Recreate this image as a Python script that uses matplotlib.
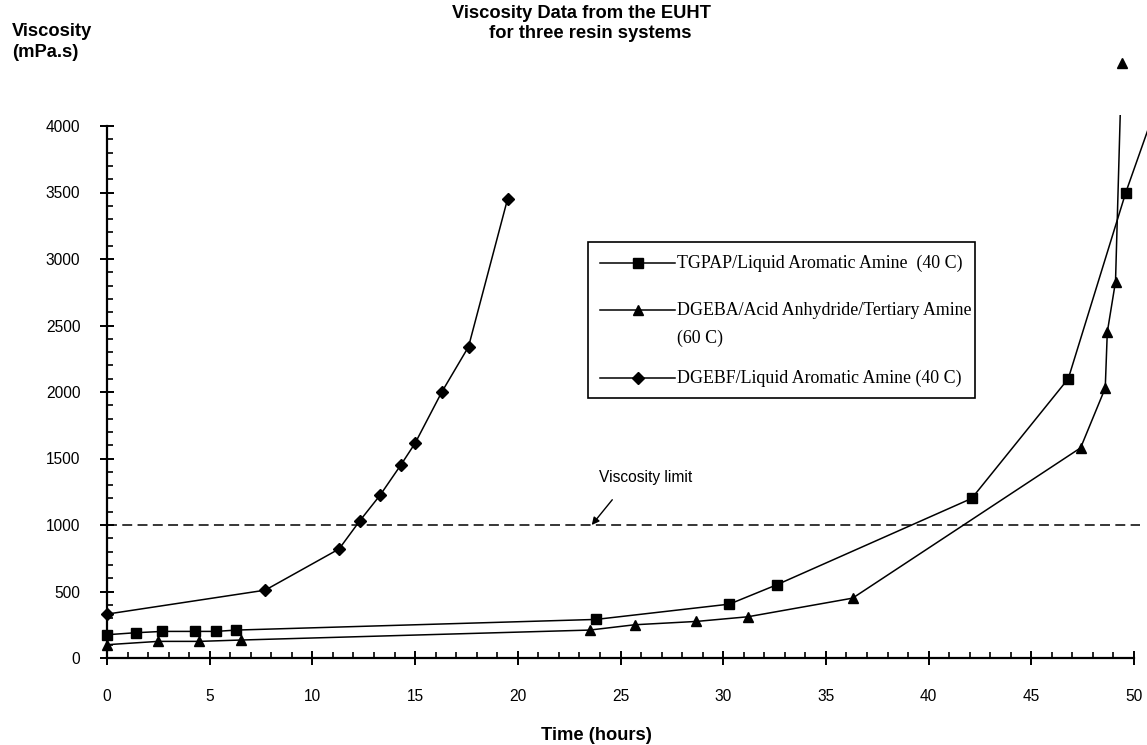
import matplotlib
matplotlib.use("Agg")
import matplotlib.pyplot as plt
from matplotlib.lines import Line2D
from matplotlib.patches import Rectangle
from matplotlib.ticker import MultipleLocator

# TGPAP / liquid aromatic amine (40 C)
tgpap_t = [0, 1.4, 2.7, 4.3, 5.3, 6.3, 23.8, 30.3, 32.6, 42.1, 46.8, 49.6, 52.0]
tgpap_v = [175, 190, 200, 200, 200, 210, 290, 405, 550, 1200, 2100, 3500, 4550]

# DGEBA / acid anhydride / tertiary amine (60 C)
dgeba_t = [0, 2.5, 4.5, 6.5, 23.5, 25.7, 28.7, 31.2, 36.3, 47.4, 48.6, 48.7, 49.1, 49.4]
dgeba_v = [100, 125, 125, 135, 210, 250, 275, 310, 450, 1580, 2030, 2450, 2830, 4470]

# DGEBF / liquid aromatic amine (40 C)
dgebf_t = [0, 7.7, 11.3, 12.3, 13.3, 14.3, 15.0, 16.3, 17.6, 19.5]
dgebf_v = [330, 510, 820, 1030, 1225, 1450, 1615, 2000, 2340, 3450]

labels = ["TGPAP/Liquid Aromatic Amine  (40 C)",
          "DGEBA/Acid Anhydride/Tertiary Amine\n(60 C)",
          "DGEBF/Liquid Aromatic Amine (40 C)"]
markers = ["s", "^", "D"]
msizes = [6.6, 7.4, 5.9]

visc_limit = 1000
x_ticks = list(range(0, 51, 5))
y_ticks = list(range(0, 4001, 500))

W, H = 1147, 745
fig = plt.figure(figsize=(W / 100, H / 100), dpi=100)
plt.rcParams['font.family'] = ['Liberation Sans', 'DejaVu Sans']

def fx(px):
    return px / W

def fy(py):
    return 1 - py / H

ax = fig.add_axes([fx(107), fy(658), fx(1134) - fx(107), fy(126) - fy(658)])
ax.set_xlim(0, 50)
ax.set_ylim(0, 4000)

# lines are clipped a little above the axis top, markers are not
clip = Rectangle((-10, -1000), 80, 5084, transform=ax.transData)
series = [(tgpap_t, tgpap_v), (dgeba_t, dgeba_v), (dgebf_t, dgebf_v)]
for (t, v), m, ms in zip(series, markers, msizes):
    ln, = ax.plot(t, v, color='black', lw=1.1)
    ln.set_clip_path(clip)
    ax.plot(t, v, ls='none', marker=m, ms=ms, color='black', clip_on=False)

ax.axhline(visc_limit, xmin=0, xmax=1.006, color='black', lw=1.1,
           dashes=(6.5, 3.5), clip_on=False)
ax.text(23.95, 1326, "Viscosity limit", fontsize=11.2)
ax.annotate('', xy=(23.6, visc_limit), xytext=(24.6, 1190),
            arrowprops=dict(arrowstyle='-|>', color='black', lw=1.0,
                            mutation_scale=11, shrinkA=0, shrinkB=0))

for s in ['top', 'right']:
    ax.spines[s].set_visible(False)
for s in ['left', 'bottom']:
    ax.spines[s].set_linewidth(1.6)

ax.set_xticks(x_ticks)
ax.set_yticks(y_ticks)
ax.xaxis.set_minor_locator(MultipleLocator(1))
ax.yaxis.set_minor_locator(MultipleLocator(100))
ax.tick_params(which='major', direction='inout', length=10.5, width=1.4,
               labelsize=11.2)
ax.tick_params(which='minor', direction='in', length=4, width=1.2)
ax.tick_params(axis='x', which='major', pad=17)
ax.tick_params(axis='y', which='major', pad=14)

# titles and axis labels
fig.text(fx(582), fy(18), "Viscosity Data from the EUHT", fontsize=13.2,
         fontweight='bold', ha='center', va='baseline')
fig.text(fx(590), fy(38), "for three resin systems", fontsize=13.2,
         fontweight='bold', ha='center', va='baseline')
fig.text(fx(12), fy(36.5), "Viscosity", fontsize=13.2, fontweight='bold',
         ha='left', va='baseline')
fig.text(fx(12), fy(57), "(mPa.s)", fontsize=13.2, fontweight='bold',
         ha='left', va='baseline')
fig.text(fx(596), fy(740), "Time (hours)", fontsize=13.2, fontweight='bold',
         ha='center', va='baseline')

# legend box drawn by hand so the long label can run over the border
fig.add_artist(Rectangle((fx(588), fy(398)), fx(975) - fx(588), fy(242) - fy(398),
                         transform=fig.transFigure, fill=False, lw=1.2,
                         edgecolor='black'))
rows = [263, 310, 378]
for lab, m, ms, ry in zip(labels, markers, msizes, rows):
    fig.add_artist(Line2D([fx(600), fx(675)], [fy(ry), fy(ry)],
                          transform=fig.transFigure, color='black', lw=1.1))
    fig.add_artist(Line2D([fx(637.5)], [fy(ry)], transform=fig.transFigure,
                          marker=m, ms=ms, color='black', ls='none'))
    lines = lab.split('\n')
    for k, txt in enumerate(lines):
        fig.text(fx(677), fy(ry + 28 * k), txt, fontsize=12.9,
                 family=['Liberation Serif', 'DejaVu Serif'],
                 ha='left', va='center')

fig.savefig("out.png", dpi=100)
